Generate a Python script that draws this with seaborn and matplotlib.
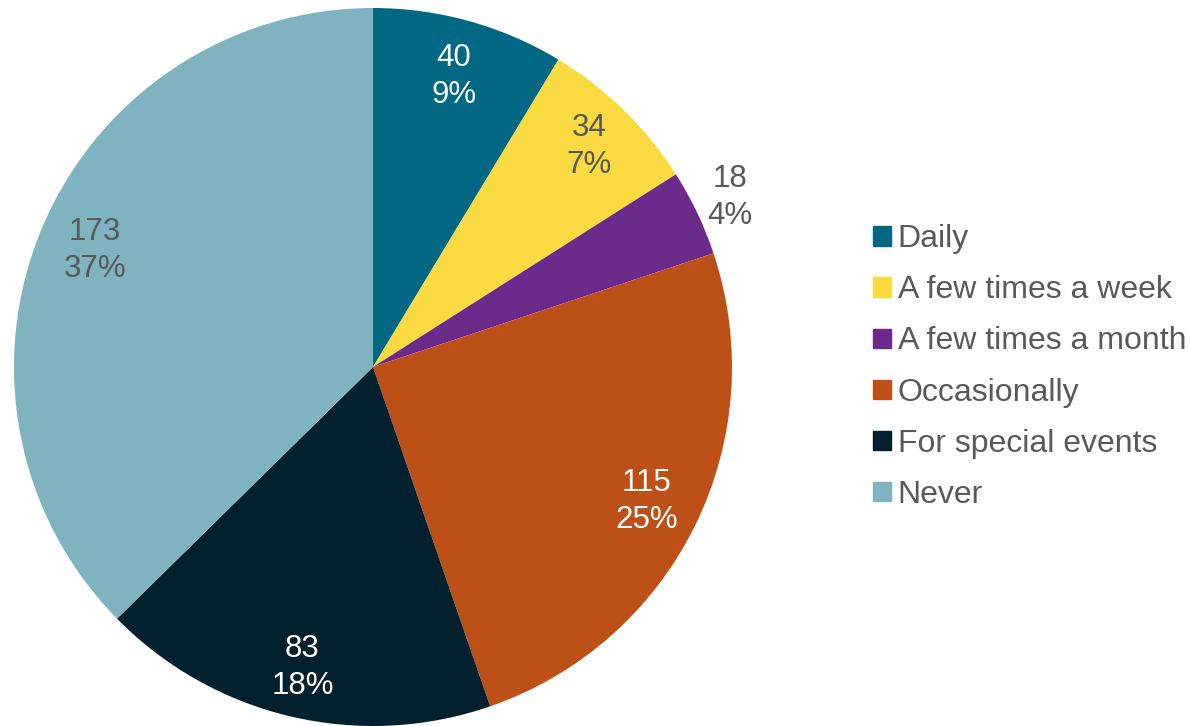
import numpy as np
import matplotlib
matplotlib.use("Agg")
import matplotlib.pyplot as plt
import matplotlib.patches as mpatches
import seaborn as sns

# dados do grafico
categorias = ['Daily', 'A few times a week', 'A few times a month',
              'Occasionally', 'For special events', 'Never']
valores = [40, 34, 18, 115, 83, 173]
cores = ['#006882', '#F9DA40', '#6B2A8C', '#BD5017', '#03202E', '#7FB3C0']
cor_rotulo = ['white', '#595959', '#595959', 'white', 'white', '#595959']
dist_rotulo = [0.84, 0.86, 1.1, 0.85, 0.86, 0.84]

sns.set_theme(style="white")
plt.rcParams['font.family'] = ['Liberation Sans', 'DejaVu Sans']

fig = plt.figure(figsize=(11.9, 7.26), dpi=100)
R = 359
ax = fig.add_axes([(373 - R) / 1190, (359 - R) / 726, 2 * R / 1190, 2 * R / 726])

ax.pie(valores, colors=cores, startangle=90, counterclock=False,
       wedgeprops=dict(linewidth=0))
ax.set_xlim(-1, 1)
ax.set_ylim(-1, 1)
ax.set_aspect('equal')
ax.axis('off')

# rotulos com valor e porcentagem
total = sum(valores)
acum = np.cumsum([0] + valores)
for i, v in enumerate(valores):
    meio = 90 - (acum[i] + v / 2) / total * 360
    ang = np.deg2rad(meio)
    r = dist_rotulo[i]
    ax.text(r * np.cos(ang), r * np.sin(ang), f"{v}\n{round(v / total * 100)}%",
            ha='center', va='center', fontsize=22.5, color=cor_rotulo[i],
            linespacing=1.3)

# legenda
handles = [mpatches.Patch(color=c, label=l) for c, l in zip(cores, categorias)]
leg = fig.legend(handles=handles, loc='center left',
                 bbox_to_anchor=(857 / 1190, 359 / 726), frameon=False,
                 fontsize=23, labelspacing=0.66, handlelength=0.55,
                 handleheight=0.55, handletextpad=0.22, borderpad=0)
for t in leg.get_texts():
    t.set_color('#595959')

plt.savefig('out.png', dpi=100)
plt.close()
